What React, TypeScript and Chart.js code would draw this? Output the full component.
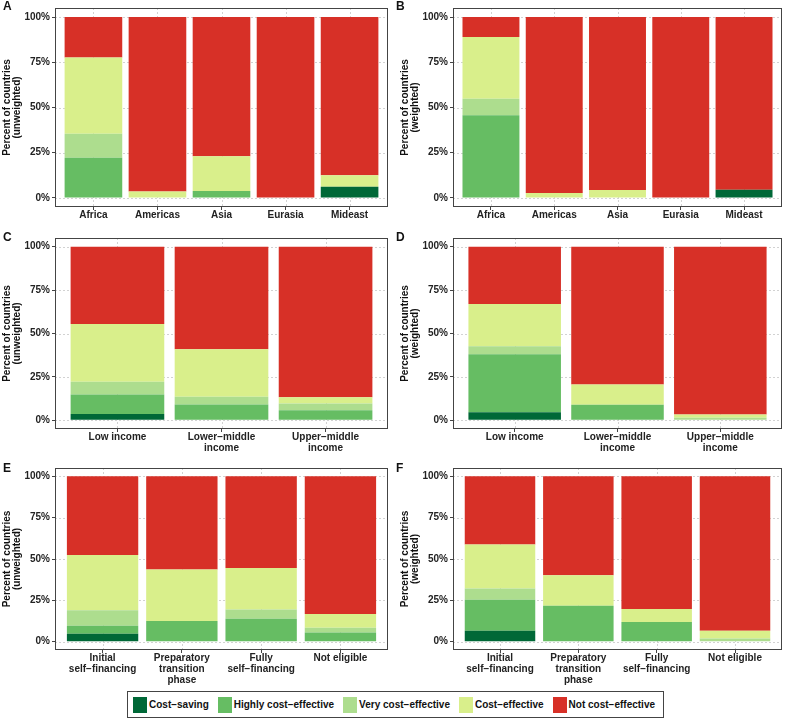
import React, { useEffect, useRef } from 'react';
import { Chart, registerables } from 'chart.js';

Chart.register(...registerables);

// Cost-effectiveness categories, stacked bottom to top
const SERIES = [
  'Cost−saving',
  'Highly cost−effective',
  'Very cost−effective',
  'Cost−effective',
  'Not cost−effective',
];
const SERIES_COLORS = ['#006837', '#66bd63', '#addd8e', '#d9ef8b', '#d73027'];

const PERCENT_TICKS = [0, 25, 50, 75, 100];

const REGIONS = [['Africa'], ['Americas'], ['Asia'], ['Eurasia'], ['Mideast']];
const INCOME_GROUPS = [['Low income'], ['Lower−middle', 'income'], ['Upper−middle', 'income']];
const TRANSITION_PHASES = [
  ['Initial', 'self−financing'],
  ['Preparatory', 'transition', 'phase'],
  ['Fully', 'self−financing'],
  ['Not eligible'],
];

// Percent of countries per category; one row per series (same order as SERIES)
const regionUnweighted = [
  [0, 0, 0, 0, 6.25],
  [22.2, 0, 3.8, 0, 0],
  [13.3, 0, 0, 0, 0],
  [42.2, 3.6, 19.2, 0, 6.25],
  [22.3, 96.4, 77.0, 100, 87.5],
];
const regionWeighted = [
  [0, 0, 0, 0, 4.6],
  [45.7, 0, 0, 0, 0],
  [9.1, 0, 0, 0, 0],
  [34.2, 2.7, 4.4, 0, 0],
  [11.0, 97.3, 95.6, 100, 95.4],
];
const incomeUnweighted = [
  [3.7, 0, 0],
  [11.1, 9.1, 5.8],
  [7.4, 4.5, 3.9],
  [33.3, 27.3, 3.6],
  [44.5, 59.1, 86.7],
];
const incomeWeighted = [
  [4.7, 0, 0],
  [33.3, 9.0, 0],
  [4.7, 0, 1.5],
  [24.3, 11.6, 1.9],
  [33.0, 79.4, 96.6],
];
const transitionUnweighted = [
  [4.8, 0, 0, 0],
  [4.8, 12.5, 13.9, 5.6],
  [9.5, 0, 5.6, 2.8],
  [33.3, 31.2, 25.0, 8.3],
  [47.6, 56.3, 55.5, 83.3],
];
const transitionWeighted = [
  [6.7, 0, 0, 0],
  [18.6, 21.8, 11.9, 0],
  [6.8, 0, 0, 2.0],
  [26.7, 18.4, 7.9, 4.7],
  [41.2, 59.8, 80.2, 93.3],
];

const FONT_FAMILY = "'Liberation Sans', Arial, Helvetica, sans-serif";
const TEXT_COLOR = '#222222';

type PanelSpec = {
  letter: string;
  categories: string[][];
  values: number[][];
  weighting: string;
  col: number;
  row: number;
};

const PANELS: PanelSpec[] = [
  { letter: 'A', categories: REGIONS, values: regionUnweighted, weighting: '(unweighted)', col: 0, row: 0 },
  { letter: 'B', categories: REGIONS, values: regionWeighted, weighting: '(weighted)', col: 1, row: 0 },
  { letter: 'C', categories: INCOME_GROUPS, values: incomeUnweighted, weighting: '(unweighted)', col: 0, row: 1 },
  { letter: 'D', categories: INCOME_GROUPS, values: incomeWeighted, weighting: '(weighted)', col: 1, row: 1 },
  { letter: 'E', categories: TRANSITION_PHASES, values: transitionUnweighted, weighting: '(unweighted)', col: 0, row: 2 },
  { letter: 'F', categories: TRANSITION_PHASES, values: transitionWeighted, weighting: '(weighted)', col: 1, row: 2 },
];

const CELL_W = 394;
const CELL_H = 230;
// per-row top padding and x-axis band height (more label lines need more room)
const ROW_TOP = [3, 4, 5];
const ROW_AXIS_H = [23, 31, 40];
// per-column y-axis band width and title offset
const COL_AXIS_W = [55, 59];
const COL_TITLE_PAD = [2, 6];

// dashed grid behind the bars, dark frame around the panel
const panelFrame = {
  id: 'panelFrame',
  beforeDatasetsDraw(chart: any) {
    const { ctx, chartArea: a, scales } = chart;
    ctx.save();
    ctx.strokeStyle = '#d2d2d2';
    ctx.lineWidth = 1;
    ctx.setLineDash([2, 2]);
    scales.y.ticks.forEach((t: any) => {
      const py = Math.round(scales.y.getPixelForValue(t.value)) + 0.5;
      ctx.beginPath();
      ctx.moveTo(a.left, py);
      ctx.lineTo(a.right, py);
      ctx.stroke();
    });
    scales.x.ticks.forEach((t: any) => {
      const px = Math.round(scales.x.getPixelForValue(t.value)) + 0.5;
      ctx.beginPath();
      ctx.moveTo(px, a.top);
      ctx.lineTo(px, a.bottom);
      ctx.stroke();
    });
    ctx.restore();
  },
  afterDatasetsDraw(chart: any) {
    const { ctx, chartArea: a } = chart;
    ctx.save();
    ctx.strokeStyle = '#444444';
    ctx.lineWidth = 1;
    ctx.strokeRect(Math.round(a.left) + 0.5, Math.round(a.top) + 0.5, Math.round(a.right - a.left) - 1, Math.round(a.bottom - a.top) - 1);
    ctx.restore();
  },
};

function Panel({ spec }: { spec: PanelSpec }) {
  const ref = useRef<HTMLCanvasElement | null>(null);

  useEffect(() => {
    if (!ref.current) return;
    const { categories, values, weighting, col, row } = spec;
    const n = categories.length;
    const tickFont = { family: FONT_FAMILY, size: 10, weight: 'bold' as const, lineHeight: 1.1 };

    const chart = new Chart(ref.current, {
      type: 'bar',
      data: {
        datasets: SERIES.map((label, s) => ({
          label,
          data: values[s].map((y, i) => ({ x: i + 1, y })),
          backgroundColor: SERIES_COLORS[s],
          borderWidth: 0,
          barPercentage: 0.9,
          categoryPercentage: 1,
        })),
      },
      options: {
        animation: false,
        responsive: false,
        events: [],
        layout: { padding: { top: ROW_TOP[row], right: 6, bottom: 0, left: 0 } },
        plugins: {
          legend: { display: false },
          tooltip: { enabled: false },
        },
        scales: {
          x: {
            type: 'linear',
            min: 0.4,
            max: n + 0.6,
            offset: false,
            stacked: true,
            afterBuildTicks: (s: any) => {
              s.ticks = categories.map((_, i) => ({ value: i + 1 }));
            },
            afterFit: (s: any) => {
              s.height = ROW_AXIS_H[row];
            },
            ticks: {
              callback: (v: any) => categories[Math.round(Number(v)) - 1],
              autoSkip: false,
              maxRotation: 0,
              minRotation: 0,
              padding: 0,
              color: TEXT_COLOR,
              font: tickFont,
            },
            grid: { offset: false, drawOnChartArea: false, tickLength: 3, tickColor: '#444444', tickWidth: 1 },
            border: { display: false },
          },
          y: {
            type: 'linear',
            min: -5,
            max: 105,
            stacked: true,
            afterBuildTicks: (s: any) => {
              s.ticks = PERCENT_TICKS.map((value) => ({ value }));
            },
            afterFit: (s: any) => {
              s.width = COL_AXIS_W[col];
            },
            ticks: {
              callback: (v: any) => `${v}%`,
              padding: 2,
              color: TEXT_COLOR,
              font: { family: FONT_FAMILY, size: 10, weight: 'bold' as const },
            },
            title: {
              display: true,
              text: ['Percent of countries', weighting],
              color: '#111111',
              font: { family: FONT_FAMILY, size: 10, weight: 'bold' as const, lineHeight: 1.0 },
              padding: { top: COL_TITLE_PAD[col], bottom: 0 },
            },
            grid: { drawOnChartArea: false, tickLength: 3, tickColor: '#444444', tickWidth: 1 },
            border: { display: false },
          },
        },
      },
      plugins: [panelFrame],
    } as any);

    return () => chart.destroy();
  }, [spec]);

  return (
    <>
      <canvas
        ref={ref}
        width={CELL_W}
        height={CELL_H}
        style={{ position: 'absolute', left: spec.col * CELL_W, top: spec.row * CELL_H, width: CELL_W, height: CELL_H }}
      />
      <div
        style={{
          position: 'absolute',
          left: spec.col * CELL_W + (spec.col ? 2 : 3),
          top: spec.row * CELL_H + ROW_TOP[spec.row] - 3,
          font: `bold 12px ${FONT_FAMILY}`,
          color: '#111111',
          lineHeight: '12px',
        }}
      >
        {spec.letter}
      </div>
    </>
  );
}

function Legend() {
  return (
    <div
      style={{
        position: 'absolute',
        left: 127,
        top: 691,
        width: 530,
        height: 25,
        border: '1px solid #444444',
        display: 'flex',
        alignItems: 'center',
        paddingLeft: 5,
        boxSizing: 'content-box',
        font: `bold 10px ${FONT_FAMILY}`,
        color: '#111111',
        whiteSpace: 'nowrap',
      }}
    >
      {SERIES.map((label, i) => (
        <div key={label} style={{ display: 'flex', alignItems: 'center', marginRight: 9 }}>
          <span style={{ display: 'inline-block', width: 14, height: 16, background: SERIES_COLORS[i], marginRight: 2 }} />
          <span>{label}</span>
        </div>
      ))}
    </div>
  );
}

export default function App() {
  return (
    <div style={{ position: 'absolute', left: 0, top: 0, width: 788, height: 719, background: '#ffffff', overflow: 'hidden' }}>
      {PANELS.map((p) => (
        <Panel key={p.letter} spec={p} />
      ))}
      <Legend />
    </div>
  );
}
